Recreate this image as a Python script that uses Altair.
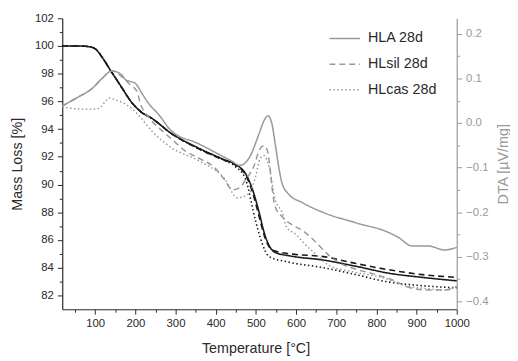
import altair as alt
import pandas as pd

series = ["HLA 28d", "HLsil 28d", "HLcas 28d"]

# ---- TG (mass loss, left axis) ----
tg_hla_T = [18, 60, 85, 100, 117, 139, 164, 189, 216, 240, 289, 356, 417, 449, 474, 491, 508, 520, 533, 548, 585, 668, 749, 831, 914, 1000]
tg_hla_M = [100.0, 100.0, 99.95, 99.8, 99.2, 98.2, 97.1, 96.0, 95.2, 94.8, 93.7, 92.65, 91.85, 91.45, 90.8, 89.7, 88.0, 86.6, 85.6, 85.1, 84.85, 84.55, 84.1, 83.6, 83.3, 83.05]

tg_sil_T = [18, 60, 85, 100, 117, 139, 164, 189, 216, 240, 289, 356, 417, 449, 474, 491, 508, 520, 533, 548, 585, 668, 749, 831, 914, 1000]
tg_sil_M = [100.0, 100.0, 99.95, 99.8, 99.2, 98.2, 97.1, 96.0, 95.2, 94.8, 93.7, 92.6, 91.8, 91.4, 90.7, 89.5, 87.7, 86.4, 85.5, 85.2, 85.0, 84.8, 84.3, 83.85, 83.5, 83.3]

tg_cas_T = [18, 60, 85, 100, 117, 139, 164, 189, 216, 240, 289, 356, 417, 449, 474, 499, 515, 533, 582, 668, 749, 823, 914, 1000]
tg_cas_M = [100.0, 100.0, 99.95, 99.8, 99.2, 98.2, 97.1, 96.0, 95.2, 94.8, 93.7, 92.6, 91.8, 91.3, 90.4, 87.4, 85.8, 84.8, 84.4, 84.0, 83.5, 83.0, 82.7, 82.55]

# ---- DTA (right axis) ----
dta_hla_T = [18, 53, 93, 117, 142, 166, 176, 188, 200, 216, 233, 257, 289, 356, 437, 461, 484, 508, 520, 530, 540, 548, 557, 565, 582, 614, 668, 749, 831, 855, 889, 929, 970, 1000]
dta_hla_D = [0.038, 0.056, 0.078, 0.100, 0.117, 0.108, 0.097, 0.093, 0.089, 0.067, 0.044, 0.020, -0.017, -0.046, -0.084, -0.095, -0.077, -0.024, 0.005, 0.016, -0.002, -0.046, -0.099, -0.135, -0.160, -0.178, -0.201, -0.224, -0.246, -0.257, -0.276, -0.276, -0.285, -0.279]

dta_sil_T = [18, 53, 93, 117, 142, 166, 188, 204, 212, 233, 260, 289, 323, 360, 397, 420, 442, 460, 474, 496, 508, 520, 528, 535, 540, 548, 565, 589, 614, 643, 683, 708, 749, 790, 831, 889, 929, 970, 1000]
dta_sil_D = [0.038, 0.056, 0.078, 0.100, 0.117, 0.104, 0.085, 0.071, 0.045, 0.013, -0.012, -0.035, -0.062, -0.080, -0.100, -0.125, -0.150, -0.145, -0.128, -0.095, -0.062, -0.051, -0.060, -0.099, -0.143, -0.188, -0.210, -0.228, -0.240, -0.262, -0.298, -0.314, -0.328, -0.338, -0.349, -0.371, -0.375, -0.375, -0.367]

dta_cas_T = [18, 40, 68, 90, 110, 125, 134, 150, 170, 191, 215, 240, 289, 356, 422, 454, 484, 499, 511, 520, 533, 548, 565, 577, 600, 620, 650, 683, 742, 823, 870, 929, 970, 1000]
dta_cas_D = [0.036, 0.033, 0.031, 0.031, 0.033, 0.048, 0.056, 0.052, 0.045, 0.033, 0.010, -0.017, -0.055, -0.084, -0.125, -0.168, -0.157, -0.121, -0.079, -0.073, -0.099, -0.172, -0.200, -0.235, -0.250, -0.270, -0.295, -0.320, -0.334, -0.349, -0.365, -0.372, -0.375, -0.367]

x_ticks = list(range(50, 1001, 50))
left_ticks = list(range(82, 103, 1))
right_ticks = [round(-0.4 + 0.05 * i, 2) for i in range(13)]


def long(T, V, name, col):
    return pd.DataFrame({"T": T, col: V, "series": name})


tg_df = pd.concat([
    long(tg_hla_T, tg_hla_M, series[0], "M"),
    long(tg_sil_T, tg_sil_M, series[1], "M"),
    long(tg_cas_T, tg_cas_M, series[2], "M"),
])
dta_df = pd.concat([
    long(dta_hla_T, dta_hla_D, series[0], "D"),
    long(dta_sil_T, dta_sil_D, series[1], "D"),
    long(dta_cas_T, dta_cas_D, series[2], "D"),
])

FONT = "Liberation Sans"
DARK = "#2a2a2a"
GRAY = "#999999"

dash_scale = alt.Scale(domain=series, range=[[1, 0], [6, 4], [1.5, 2.5]])

x_enc = alt.X(
    "T:Q",
    scale=alt.Scale(domain=[18, 1000], nice=False, zero=False),
    axis=alt.Axis(
        values=x_ticks,
        format="d",
        labelExpr="datum.value % 100 === 0 ? datum.label : ''",
        tickSize={"condition": {"test": "datum.value % 100 === 0", "value": 5}, "value": 3},
        labelOverlap=False,
        labelFlush=False,
        labelPadding=3,
        grid=False,
        title="Temperature [°C]",
        titleX=196,
        titleY=40,
        titleBaseline="middle",
        titleAlign="center",
        domainColor=DARK,
        tickColor=DARK,
        labelColor=DARK,
        titleColor=DARK,
    ),
)

tg = alt.Chart(tg_df).mark_line(color="#1a1a1a", strokeWidth=1.6, interpolate="monotone").encode(
    x=x_enc,
    y=alt.Y(
        "M:Q",
        scale=alt.Scale(domain=[81, 102], nice=False, zero=False),
        axis=alt.Axis(
            values=left_ticks,
            format="d",
            labelExpr="datum.value % 2 === 0 ? datum.label : ''",
            tickSize={"condition": {"test": "datum.value % 2 === 0", "value": 5}, "value": 3},
            labelOverlap=False,
            labelPadding=4,
            grid=False,
            title="Mass Loss [%]",
            titleX=-45,
            titleY=147.5,
            titleAngle=270,
            titleAlign="center",
            titleBaseline="middle",
            domainColor=DARK,
            tickColor=DARK,
            labelColor=DARK,
            titleColor=DARK,
        ),
    ),
    strokeDash=alt.StrokeDash("series:N", scale=dash_scale, legend=None),
)

dta = alt.Chart(dta_df).mark_line(color=GRAY, strokeWidth=1.5, interpolate="monotone").encode(
    x=x_enc,
    y=alt.Y(
        "D:Q",
        scale=alt.Scale(domain=[-0.418, 0.235], nice=False, zero=False),
        axis=alt.Axis(
            orient="right",
            values=right_ticks,
            format=".1f",
            labelExpr="abs(datum.value*10 - round(datum.value*10)) < 0.001 ? datum.label : ''",
            tickSize={"condition": {"test": "abs(datum.value*10 - round(datum.value*10)) < 0.001", "value": 5}, "value": 3},
            labelOverlap=False,
            labelPadding=4,
            grid=False,
            title="DTA [µV/mg]",
            titleX=47,
            titleY=147.5,
            titleAngle=270,
            titleAlign="center",
            titleBaseline="middle",
            domainColor=GRAY,
            tickColor=GRAY,
            labelColor=GRAY,
            titleColor=GRAY,
        ),
    ),
    strokeDash=alt.StrokeDash(
        "series:N",
        scale=dash_scale,
        legend=alt.Legend(
            title=None,
            orient="none",
            legendX=270,
            legendY=4,
            symbolType="stroke",
            symbolSize=960,
            symbolStrokeWidth=1.5,
            symbolStrokeColor=GRAY,
            labelFontSize=14.5,
            labelFont=FONT,
            labelColor=DARK,
            labelOffset=7,
            rowPadding=3,
        ),
    ),
)

chart = (
    alt.layer(tg, dta)
    .resolve_scale(y="independent", strokeDash="independent")
    .properties(
        width=400,
        height=295,
        autosize=alt.AutoSizeParams(type="none"),
        padding={"left": 55, "top": 8, "right": 54, "bottom": 48},
        background="white",
    )
    .configure_view(strokeWidth=0)
    .configure_axis(
        labelFont=FONT,
        titleFont=FONT,
        labelFontSize=11.5,
        titleFontSize=14.5,
        titleFontWeight="normal",
        domainWidth=1.2,
        tickWidth=1,
    )
)

chart.save("out.html", embed_options={"renderer": "svg", "actions": False})
